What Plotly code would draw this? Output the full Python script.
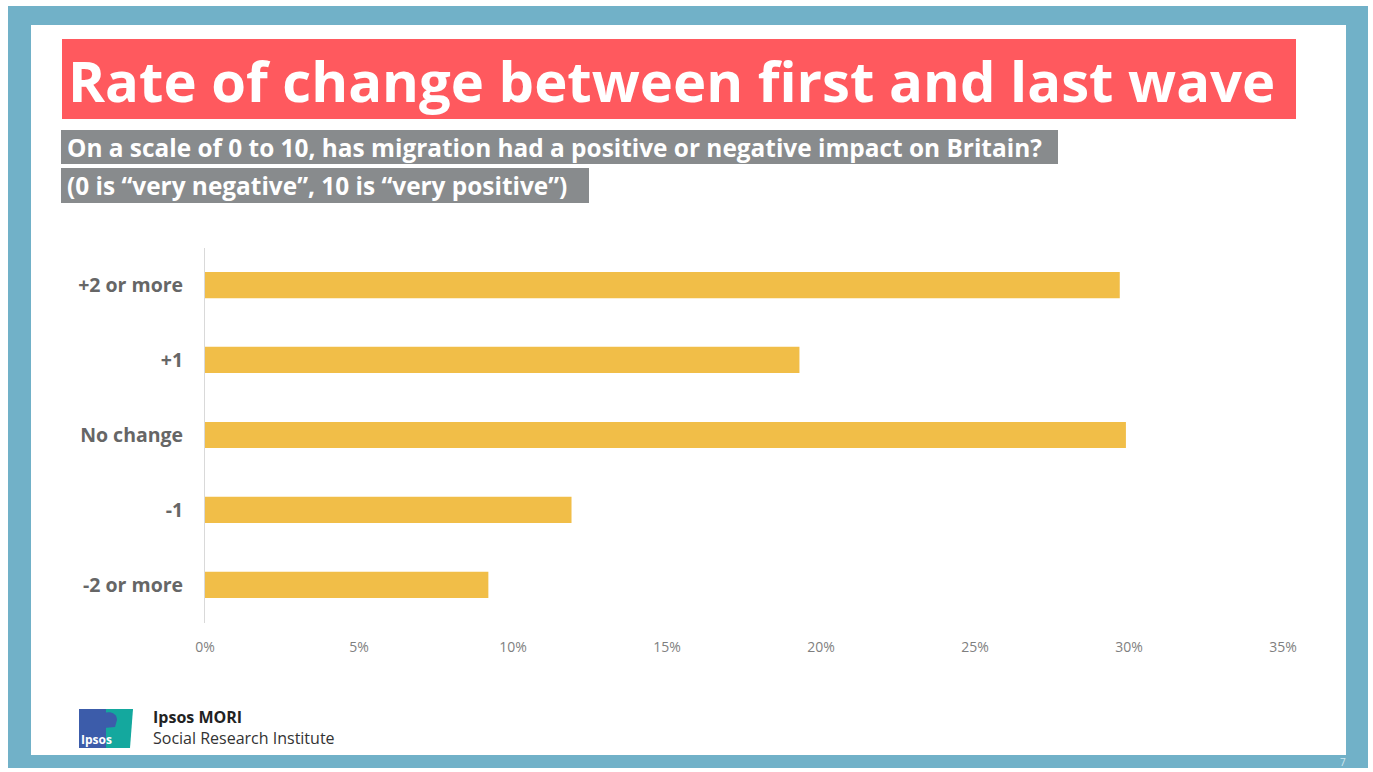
import plotly.graph_objects as go

# Survey results: rate of change between first and last wave
categories = ["+2 or more", "+1", "No change", "-1", "-2 or more"]
shares = [29.7, 19.3, 29.9, 11.9, 9.2]
tick_values = [0, 5, 10, 15, 20, 25, 30, 35]
tick_labels = ["0%", "5%", "10%", "15%", "20%", "25%", "30%", "35%"]

W, H = 1373, 772
FRAME = "#71B1C8"
BAR = "#F1BE48"
RED = "#FF595E"
GREY = "#888B8D"
FONT = "Open Sans"


def px(x):
    return x / W


def py(y):
    return 1 - y / H


fig = go.Figure()
fig.add_trace(go.Bar(
    y=categories,
    x=shares,
    orientation="h",
    marker=dict(color=BAR, line=dict(width=0)),
    width=0.35,
    hoverinfo="skip",
))

shapes = []
# slide frame
shapes.append(dict(type="rect", xref="paper", yref="paper",
                   x0=px(8), x1=px(1368), y0=py(768), y1=py(6),
                   fillcolor=FRAME, line=dict(width=0), layer="below"))
shapes.append(dict(type="rect", xref="paper", yref="paper",
                   x0=px(31), x1=px(1346), y0=py(755), y1=py(25),
                   fillcolor="white", line=dict(width=0), layer="below"))
# title banner and question boxes
shapes.append(dict(type="rect", xref="paper", yref="paper",
                   x0=px(62), x1=px(1296), y0=py(119), y1=py(39),
                   fillcolor=RED, line=dict(width=0), layer="below"))
shapes.append(dict(type="rect", xref="paper", yref="paper",
                   x0=px(61), x1=px(1058), y0=py(164), y1=py(130),
                   fillcolor=GREY, line=dict(width=0), layer="below"))
shapes.append(dict(type="rect", xref="paper", yref="paper",
                   x0=px(61), x1=px(589), y0=py(203), y1=py(168),
                   fillcolor=GREY, line=dict(width=0), layer="below"))
# logo block
shapes.append(dict(type="rect", xref="paper", yref="paper",
                   x0=px(79), x1=px(106), y0=py(748), y1=py(709),
                   fillcolor="#3C5CAA", line=dict(width=0)))
shapes.append(dict(type="path", xref="paper", yref="paper",
                   path=(f"M {px(106)},{py(709)} L {px(133)},{py(709)} "
                         f"L {px(130)},{py(748)} L {px(106)},{py(748)} Z"),
                   fillcolor="#14A89E", line=dict(width=0)))
shapes.append(dict(type="path", xref="paper", yref="paper",
                   path=(f"M {px(104)},{py(713)} C {px(110)},{py(711)} {px(117)},{py(713)} {px(117)},{py(720)} "
                         f"L {px(115)},{py(727)} L {px(104)},{py(728)} Z"),
                   fillcolor="#3C5CAA", line=dict(width=0)))


def note(text, x, y, size, color, xanchor="left"):
    return dict(text=text, xref="paper", yref="paper", x=px(x), y=py(y),
                xanchor=xanchor, yanchor="middle", showarrow=False,
                font=dict(family=FONT, size=size, color=color))


annotations = [
    note("<b>Rate of change between first and last wave</b>", 66, 80, 56.2, "white"),
    note("<b>On a scale of 0 to 10, has migration had a positive or negative impact on Britain?</b>",
         65, 147, 24.4, "white"),
    note("<b>(0 is \u201cvery negative\u201d, 10 is \u201cvery positive\u201d)</b>", 65, 186, 24.4, "white"),
    note("<b>Ipsos</b>", 96, 739, 12, "white", "center"),
    note("<b>Ipsos MORI</b>", 151, 717, 16, "#222222"),
    note("Social Research Institute", 151, 738, 16, "#333333"),
    note("7", 1343, 762, 10, "#D2E8F0", "center"),
]

fig.update_layout(
    width=W, height=H,
    autosize=False,
    margin=dict(l=0, r=0, t=0, b=0, pad=0, autoexpand=False),
    paper_bgcolor="white",
    plot_bgcolor="rgba(0,0,0,0)",
    showlegend=False,
    bargap=0.65,
    shapes=shapes,
    annotations=annotations,
    xaxis=dict(
        domain=[px(205), px(1283)],
        range=[0, 35],
        tickvals=tick_values,
        ticktext=tick_labels,
        showgrid=False,
        zeroline=False,
        showline=False,
        ticks="",
        automargin=False,
        ticklabelstandoff=14,
        tickfont=dict(family=FONT, size=14, color="#7F7F7F"),
        fixedrange=True,
    ),
    yaxis=dict(
        domain=[py(622.5), py(247.5)],
        categoryorder="array",
        categoryarray=categories[::-1],
        showgrid=False,
        zeroline=False,
        showline=True,
        linecolor="#D9D9D9",
        linewidth=1,
        ticks="",
        automargin=False,
        ticklabelstandoff=17,
        tickfont=dict(family=FONT, size=19.5, color="#666666", weight="bold"),
        fixedrange=True,
    ),
)

fig.write_html("out.html")
